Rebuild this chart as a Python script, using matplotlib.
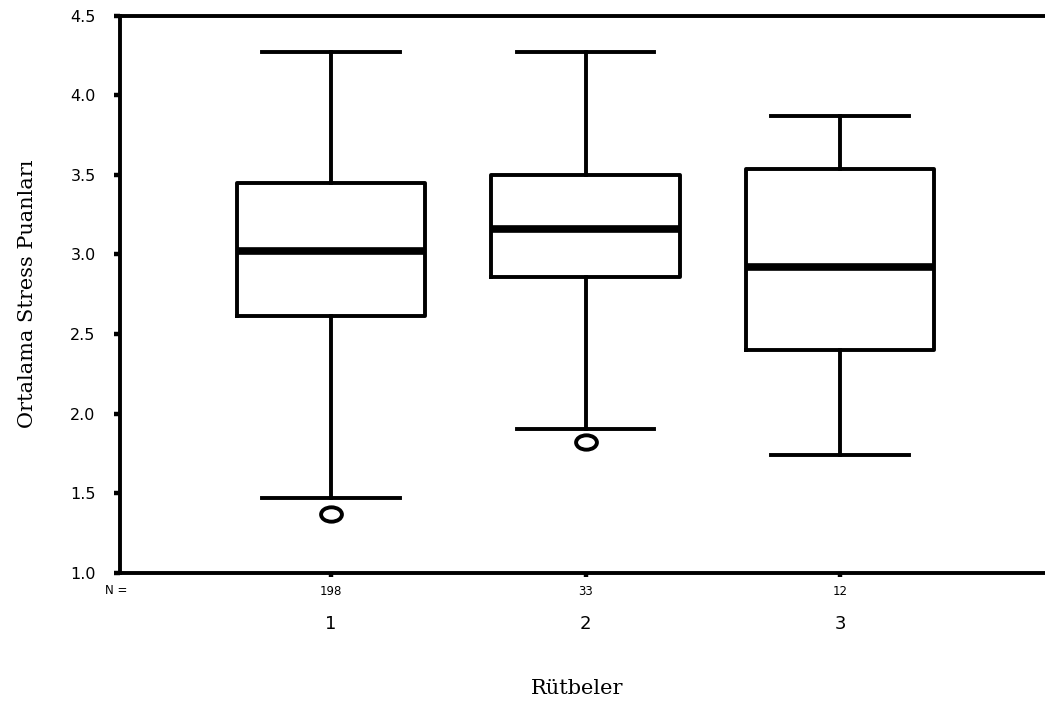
import matplotlib
matplotlib.use("Agg")
import matplotlib.pyplot as plt
from matplotlib.path import Path
from matplotlib.transforms import Affine2D, blended_transform_factory

# Kutu grafigi ozet degerleri
groups = ["1", "2", "3"]
n_values = ["198", "33", "12"]
medians = [3.02, 3.16, 2.92]
q1 = [2.61, 2.855, 2.40]
q3 = [3.45, 3.50, 3.535]
whis_low = [1.47, 1.90, 1.74]
whis_high = [4.27, 4.27, 3.87]
outliers = [[1.37], [1.82], []]
yticks = [1.0, 1.5, 2.0, 2.5, 3.0, 3.5, 4.0, 4.5]

W, H = 1045, 704
fig = plt.figure(figsize=(W / 100, H / 100), dpi=100)
ax = fig.add_axes([120 / W, 1 - 572.7 / H, 1 - 120 / W, (572.7 - 15.7) / H])

stats = []
for i in range(len(groups)):
    stats.append({"med": medians[i], "q1": q1[i], "q3": q3[i],
                  "whislo": whis_low[i], "whishi": whis_high[i],
                  "fliers": outliers[i]})

# "O" seklinde basik daire
oval = Path.unit_circle().transformed(Affine2D().scale(1.45, 1.0))

lw = 2.8
positions = list(range(1, len(groups) + 1))
ax.bxp(stats, positions=positions, widths=0.74, capwidths=0.54,
       showfliers=True,
       boxprops=dict(color="black", linewidth=lw),
       medianprops=dict(color="black", linewidth=5.5, solid_capstyle="butt"),
       whiskerprops=dict(color="black", linewidth=lw),
       capprops=dict(color="black", linewidth=lw),
       flierprops=dict(marker=oval, markersize=15, markerfacecolor="none",
                       markeredgecolor="black", markeredgewidth=2.8))

ax.set_xlim(1 - (331 - 120) / 254.5, 3 + (1045 - 840) / 254.5)
ax.set_ylim(1.0, 4.5)
ax.set_yticks(yticks)
ax.set_yticklabels([f"{v:.1f}" for v in yticks], family="DejaVu Sans",
                   fontsize=11.5)
ax.set_xticks(positions)
ax.set_xticklabels(n_values, family="DejaVu Sans", fontsize=8.5)
ax.tick_params(axis="y", direction="out", length=4.5, width=3.2, pad=13)
ax.tick_params(axis="x", direction="out", length=3, width=3.2, pad=6)

for s in ["left", "bottom", "top"]:
    ax.spines[s].set_linewidth(2.8)
ax.spines["right"].set_visible(False)

fig.text(116 / W, 1 - 590 / H, "N =", family="DejaVu Sans", fontsize=8.5,
         ha="center", va="center")

trans = blended_transform_factory(ax.transData, fig.transFigure)
for p, g in zip(positions, groups):
    ax.text(p, 1 - 624 / H, g, transform=trans, family="DejaVu Sans",
            fontsize=13, ha="center", va="center")

fig.text(577 / W, 1 - 688 / H, "Rütbeler", family="DejaVu Serif",
         fontsize=15, ha="center", va="center")
fig.text(28 / W, 1 - 294 / H, "Ortalama Stress Puanları",
         family="DejaVu Serif", fontsize=15, rotation=90,
         ha="center", va="center")

fig.savefig("out.png", dpi=100)
